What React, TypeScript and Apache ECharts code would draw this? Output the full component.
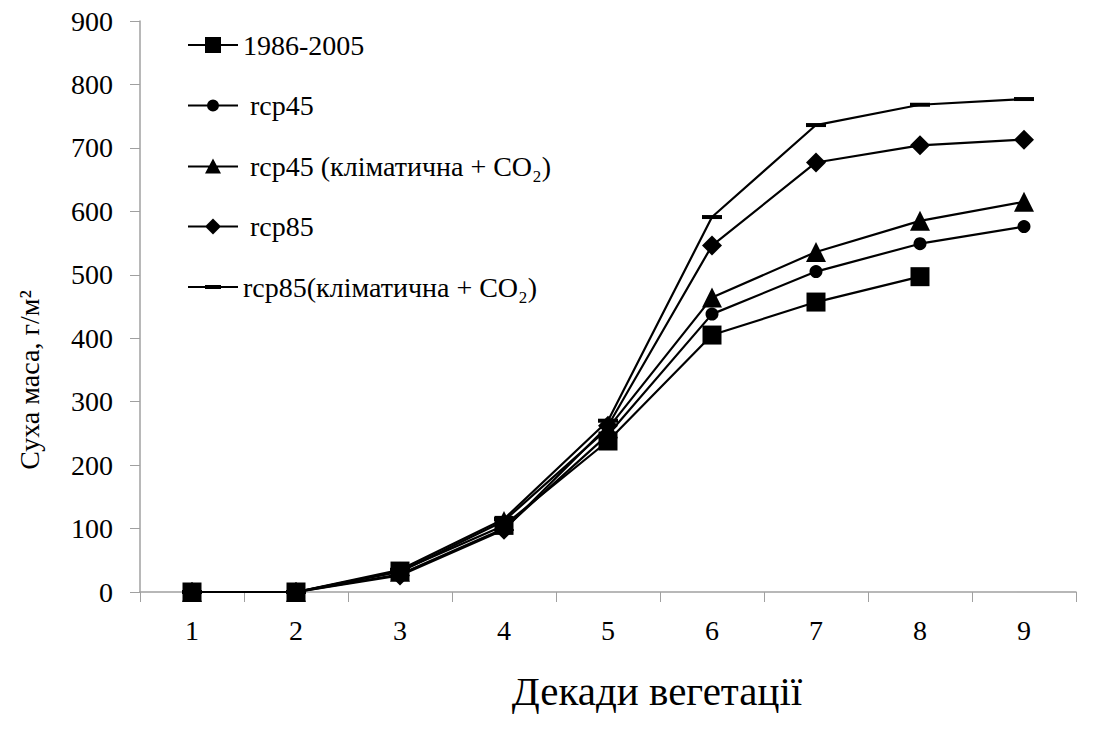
import React, { useEffect, useRef } from "react";
import * as echarts from "echarts";

const categories = ["1", "2", "3", "4", "5", "6", "7", "8", "9"];
const base19862005 = [0, 0, 33, 105, 238, 405, 457, 497, null];
const rcp45 = [0, 0, 28, 100, 248, 438, 505, 549, 576];
const rcp45Co2 = [0, 0, 32, 112, 258, 464, 536, 585, 615];
const rcp85 = [0, 0, 26, 98, 262, 546, 677, 704, 713];
const rcp85Co2 = [0, 0, 35, 115, 270, 591, 736, 768, 777];
const seriesNames = [
  "1986-2005",
  " rcp45",
  " rcp45 (кліматична + CO₂)",
  " rcp85",
  "rcp85(кліматична + CO₂)",
];
const yTicks = { min: 0, max: 900, interval: 100 };
const xTitle = "Декади вегетації";
const yTitle = "Суха маса, г/м²";

const FONT = "Liberation Serif";
const LINE = "M0,9 L50,9 L50,11 L0,11 Z ";
const legendIcons = [
  "path://" + LINE + "M17,2 L33,2 L33,18 L17,18 Z",
  "path://" + LINE + "M19,10 A6,6 0 1,1 31,10 A6,6 0 1,1 19,10 Z",
  "path://" + LINE + "M25,2 L33,17 L17,17 Z",
  "path://" + LINE + "M25,2 L33,10 L25,18 L17,10 Z",
  "path://" + LINE + "M17,8 L33,8 L33,12 L17,12 Z",
];

export default function App() {
  const ref = useRef<HTMLDivElement>(null);
  useEffect(() => {
    if (!ref.current) return;
    const chart = echarts.init(ref.current, null, { renderer: "svg" });
    const line = { color: "#000", width: 2.2 };
    const mk = (name: string, data: any[], symbol: string, size: any) => ({
      name,
      type: "line",
      data,
      symbol,
      symbolSize: size,
      showAllSymbol: true,
      lineStyle: line,
      itemStyle: { color: "#000", borderWidth: 0 },
      connectNulls: false,
    });
    chart.setOption({
      animation: false,
      backgroundColor: "#fff",
      grid: { left: 140, right: 21, top: 21, bottom: 141 },
      legend: {
        orient: "vertical",
        left: 183,
        top: 26,
        itemGap: 32.5,
        itemWidth: 50,
        itemHeight: 20,
        symbolKeepAspect: true,
        textStyle: { fontFamily: FONT, fontSize: 28, lineHeight: 28, color: "#000" },
        data: seriesNames.map((n, i) => ({ name: n, icon: legendIcons[i] })),
      },
      xAxis: {
        type: "category",
        data: categories,
        boundaryGap: true,
        axisLine: { lineStyle: { color: "#a0a0a0", width: 1.5 } },
        axisTick: { show: true, length: 10, inside: false, lineStyle: { color: "#a0a0a0" } },
        axisLabel: { fontFamily: FONT, fontSize: 28, color: "#000", margin: 24 },
      },
      yAxis: {
        type: "value",
        min: yTicks.min,
        max: yTicks.max,
        interval: yTicks.interval,
        splitLine: { show: false },
        axisLine: { show: true, lineStyle: { color: "#a0a0a0", width: 1.5 } },
        axisTick: { show: true, length: 10, lineStyle: { color: "#a0a0a0" } },
        axisLabel: { fontFamily: FONT, fontSize: 28, color: "#000", margin: 27 },
      },
      graphic: [
        {
          type: "text",
          x: 657,
          y: 691,
          style: {
            text: xTitle,
            fontFamily: FONT,
            fontSize: 41,
            fill: "#000",
            align: "center",
            verticalAlign: "middle",
          },
        },
        {
          type: "text",
          x: 29,
          y: 380,
          rotation: Math.PI / 2,
          style: {
            text: yTitle,
            fontFamily: FONT,
            fontSize: 28,
            fill: "#000",
            align: "center",
            verticalAlign: "middle",
          },
        },
      ],
      series: [
        mk(seriesNames[0], base19862005, "rect", 19),
        mk(seriesNames[1], rcp45, "circle", 13),
        mk(seriesNames[2], rcp45Co2, "triangle", 20),
        mk(seriesNames[3], rcp85, "diamond", 20),
        mk(seriesNames[4], rcp85Co2, "path://M0,0 H20 V4 H0 Z", [20, 4]),
      ],
    });
    return () => chart.dispose();
  }, []);
  return (
    <div
      ref={ref}
      style={{ position: "absolute", left: 0, top: 0, width: 1097, height: 733 }}
    />
  );
}
